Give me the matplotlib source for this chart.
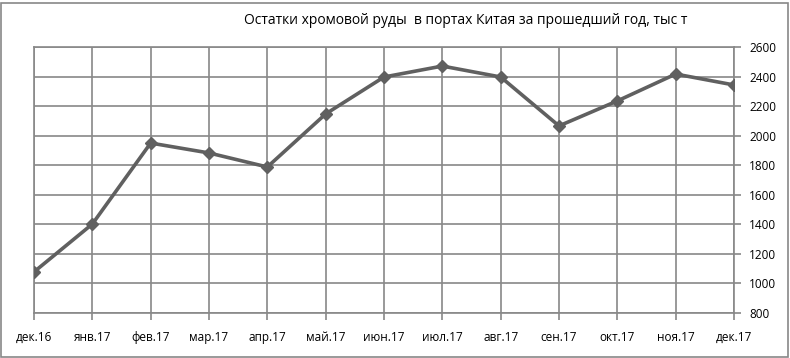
import matplotlib
matplotlib.use("Agg")
import matplotlib.pyplot as plt
from matplotlib.patches import Rectangle

months = ["дек.16", "янв.17", "фев.17", "мар.17", "апр.17", "май.17", "июн.17",
          "июл.17", "авг.17", "сен.17", "окт.17", "ноя.17", "дек.17"]
stocks = [1078, 1402, 1950, 1883, 1788, 2147, 2397, 2471, 2397, 2066, 2235, 2417, 2343]
yticks = [800, 1000, 1200, 1400, 1600, 1800, 2000, 2200, 2400, 2600]
title = "Остатки хромовой руды  в портах Китая за прошедший год, тыс т"

plt.rcParams['font.family'] = ['Open Sans', 'DejaVu Sans']

fig = plt.figure(figsize=(7.9, 3.58), dpi=100)
ax = fig.add_axes([34/790, 1-313/358, 700/790, 266/358])

x = list(range(len(months)))
ax.plot(x, stocks, color="#606060", linewidth=2.6, marker="D", markersize=6,
        markerfacecolor="#606060", markeredgecolor="#606060", zorder=3)

ax.set_xlim(0, len(months)-1)
ax.set_ylim(800, 2600)
ax.set_xticks(x)
ax.set_xticklabels(months, fontsize=8.5)
ax.set_yticks(yticks)
ax.set_yticklabels([str(v) for v in yticks], fontsize=8.5)
ax.yaxis.tick_right()
ax.grid(True, color="#888888", linewidth=1.2)
ax.set_axisbelow(True)
for s in ["top", "left"]:
    ax.spines[s].set_visible(True)
    ax.spines[s].set_color("#888888")
for s in ["bottom", "right"]:
    ax.spines[s].set_color("#888888")
    ax.spines[s].set_linewidth(1.2)
ax.spines["top"].set_linewidth(1.2)
ax.spines["left"].set_linewidth(1.2)
ax.tick_params(axis="x", direction="out", length=5, color="#888888", width=1.2, pad=8)
ax.tick_params(axis="y", direction="out", length=5, color="#888888", width=1.2, pad=6)

fig.text(466/790, 1-21/358, title, ha="center", va="center", fontsize=10)

fig.patches.append(Rectangle((1/790, 1/358), 787/790, 354/358, transform=fig.transFigure,
                             fill=False, edgecolor="#888888", linewidth=1.2))

fig.savefig("out.png", dpi=100)
